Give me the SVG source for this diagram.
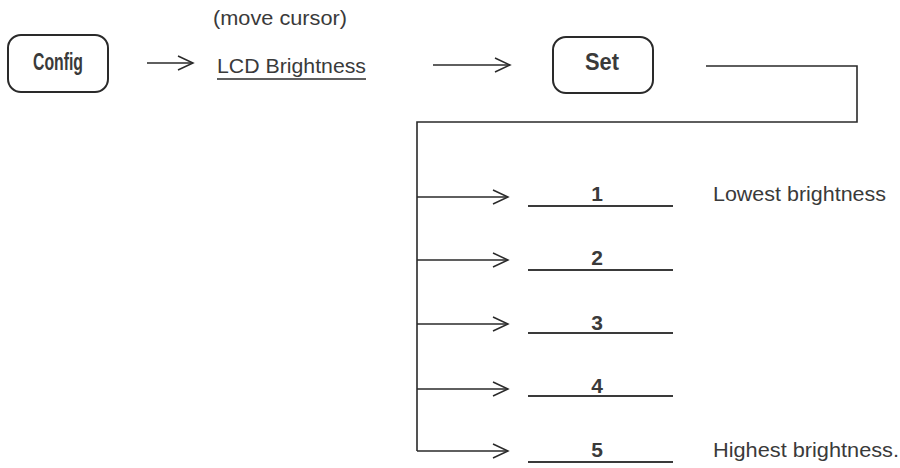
<svg xmlns="http://www.w3.org/2000/svg" width="900" height="468" viewBox="0 0 900 468">
<defs>
<style>
.t{font-family:"Liberation Sans",Arial,sans-serif;fill:#3a3a3a;font-size:20px}
.b{font-weight:bold}
.big{font-size:23px}
.mid{font-size:21px}
.box{fill:none;stroke:#2a2a2a;stroke-width:2}
.ln{fill:none;stroke:#2a2a2a;stroke-width:1.6}
.ul{fill:none;stroke:#3a3a3a;stroke-width:2}
</style>
<marker id="ah" markerWidth="18" markerHeight="16" refX="16" refY="8" orient="auto" markerUnits="userSpaceOnUse">
<path d="M1,1 L16,8 L1,15" fill="none" stroke="#2a2a2a" stroke-width="1.5"/>
</marker>
</defs>
<rect width="900" height="468" fill="#fff"/>
<g id="config">
<rect class="box" x="8" y="35" width="100" height="57" rx="13"/>
<text class="t b big" x="58" y="70" text-anchor="middle" textLength="50" lengthAdjust="spacingAndGlyphs">Config</text>
</g>
<g id="lcd">
<text class="t mid" x="213" y="25" textLength="134" lengthAdjust="spacingAndGlyphs">(move cursor)</text>
<text class="t mid" x="217" y="73" textLength="149" lengthAdjust="spacingAndGlyphs">LCD Brightness</text>
<line class="ln" x1="217" y1="79" x2="366" y2="79"/>
</g>
<g id="set">
<rect class="box" x="553" y="37" width="100" height="56" rx="13"/>
<text class="t b big" x="602" y="70" text-anchor="middle" textLength="34" lengthAdjust="spacingAndGlyphs">Set</text>
</g>
<g id="opt1">
<text class="t b mid" x="597" y="201" text-anchor="middle">1</text>
<line class="ul" x1="528" y1="206" x2="673" y2="206"/>
<text class="t" x="713" y="201" textLength="173" lengthAdjust="spacingAndGlyphs">Lowest brightness</text>
</g>
<g id="opt2">
<text class="t b mid" x="597" y="265" text-anchor="middle">2</text>
<line class="ul" x1="528" y1="270" x2="673" y2="270"/>
</g>
<g id="opt3">
<text class="t b mid" x="597" y="330" text-anchor="middle">3</text>
<line class="ul" x1="528" y1="333" x2="673" y2="333"/>
</g>
<g id="opt4">
<text class="t b mid" x="597" y="393" text-anchor="middle">4</text>
<line class="ul" x1="528" y1="396" x2="673" y2="396"/>
</g>
<g id="opt5">
<text class="t b mid" x="597" y="457" text-anchor="middle">5</text>
<line class="ul" x1="528" y1="462" x2="673" y2="462"/>
<text class="t" x="713" y="457" textLength="186" lengthAdjust="spacingAndGlyphs">Highest brightness.</text>
</g>
<g id="connectors">
<line class="ln" x1="147" y1="63" x2="193" y2="63" marker-end="url(#ah)"/>
<line class="ln" x1="433" y1="65" x2="510" y2="65" marker-end="url(#ah)"/>
<polyline class="ln" points="706,66 857,66 857,122 417,122 417,451"/>
<line class="ln" x1="417" y1="197" x2="508" y2="197" marker-end="url(#ah)"/>
<line class="ln" x1="417" y1="260" x2="508" y2="260" marker-end="url(#ah)"/>
<line class="ln" x1="417" y1="324" x2="508" y2="324" marker-end="url(#ah)"/>
<line class="ln" x1="417" y1="389" x2="508" y2="389" marker-end="url(#ah)"/>
<line class="ln" x1="417" y1="451" x2="508" y2="451" marker-end="url(#ah)"/>
</g>
</svg>
